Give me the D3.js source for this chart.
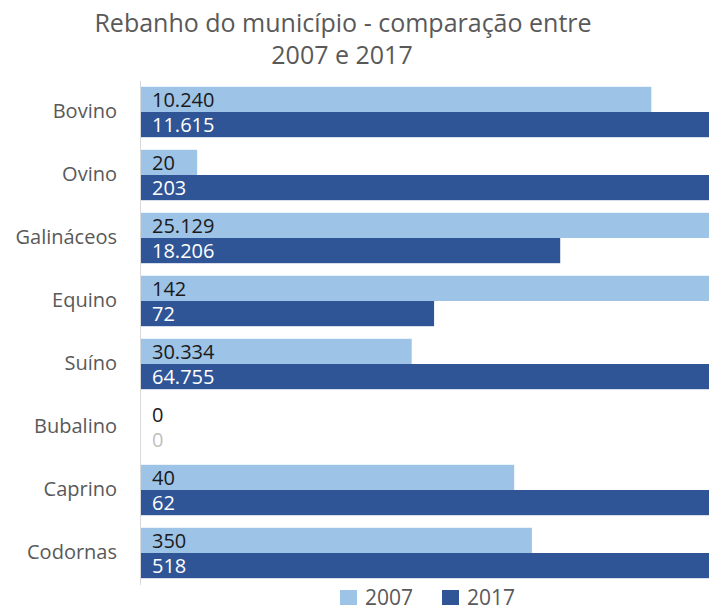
<!DOCTYPE html>
<html>
<head>
<meta charset="utf-8">
<script src="https://cdn.jsdelivr.net/npm/d3@7"></script>
<style>
  body { margin: 0; background: #fff; overflow: hidden; }
  text { font-family: "Open Sans", "Noto Sans", sans-serif; }
</style>
</head>
<body>
<script>
var width = 709,
    height = 610;

// dados
var categorias = ["Bovino", "Ovino", "Galináceos", "Equino", "Suíno", "Bubalino", "Caprino", "Codornas"];
var anos = ["2007", "2017"];
var valores2007 = [10240, 20, 25129, 142, 30334, 0, 40, 350];
var valores2017 = [11615, 203, 18206, 72, 64755, 0, 62, 518];
var cores = ["#9dc3e6", "#2f5597"];

var svg = d3.select("body").append("svg")
    .attr("width", width)
    .attr("height", height);

var fmt = d3.formatLocale({ decimal: ",", thousands: ".", grouping: [3], currency: ["R$", ""] }).format(",d");

// cada categoria normalizada pelo seu maior valor
var linhas = categorias.map(function(c, i) {
    var m = Math.max(valores2007[i], valores2017[i]);
    return {
        cat: c,
        vals: [valores2007[i], valores2017[i]].map(function(v, k) {
            return { ano: anos[k], v: v, share: m > 0 ? v / m : 0 };
        })
    };
});

var x = d3.scaleLinear().domain([0, 1]).range([140, 720]);

var y = d3.scaleBand()
    .domain(categorias)
    .range([80.5, 584.5])
    .paddingInner(0.2)
    .paddingOuter(0.1);

var y1 = d3.scaleBand().domain(anos).range([0, y.bandwidth()]);

// título
svg.append("text")
    .attr("x", 343).attr("y", 32)
    .attr("text-anchor", "middle")
    .style("font-size", "25px")
    .style("fill", "#595959")
    .text("Rebanho do município - comparação entre");
svg.append("text")
    .attr("x", 342).attr("y", 64)
    .attr("text-anchor", "middle")
    .style("font-size", "25px")
    .style("fill", "#595959")
    .text("2007 e 2017");

var grupo = svg.selectAll(".cat")
    .data(linhas)
    .enter().append("g")
    .attr("class", "cat")
    .attr("transform", function(d) { return "translate(0," + y(d.cat) + ")"; });

grupo.selectAll("rect")
    .data(function(d) { return d.vals; })
    .enter().append("rect")
    .attr("x", x(0))
    .attr("y", function(d) { return y1(d.ano); })
    .attr("height", y1.bandwidth())
    .attr("width", function(d) { return x(d.share) - x(0); })
    .style("fill", function(d, i) { return cores[i]; });

grupo.selectAll(".rotulo")
    .data(function(d) { return d.vals; })
    .enter().append("text")
    .attr("class", "rotulo")
    .attr("x", x(0) + 12)
    .attr("y", function(d) { return y1(d.ano) + y1.bandwidth() / 2; })
    .attr("dy", "0.36em")
    .style("font-size", "20px")
    .style("fill", function(d, i) {
        if (i === 0) return "#1a1a1a";
        return d.v === 0 ? "#bfbfbf" : "#ffffff";
    })
    .text(function(d) { return fmt(d.v); });

// eixo das categorias
var eixo = svg.append("g")
    .attr("transform", "translate(" + x(0) + ",0)")
    .call(d3.axisLeft(y).tickSize(0).tickPadding(23));
eixo.select(".domain").attr("stroke", "#d9d9d9");
eixo.selectAll("text")
    .style("font-size", "20px")
    .style("fill", "#595959")
    .style("font-family", "'Open Sans', 'Noto Sans', sans-serif");

// legenda
var legenda = svg.append("g")
    .attr("transform", "translate(340,590)");
var item = legenda.selectAll("g")
    .data(anos)
    .enter().append("g")
    .attr("transform", function(d, i) { return "translate(" + (i * 102) + ",0)"; });
item.append("rect")
    .attr("width", 17).attr("height", 15)
    .style("fill", function(d, i) { return cores[i]; });
item.append("text")
    .attr("x", 25).attr("y", 7)
    .attr("dy", "0.36em")
    .style("font-size", "21px")
    .style("fill", "#595959")
    .text(function(d) { return d; });
</script>
</body>
</html>
